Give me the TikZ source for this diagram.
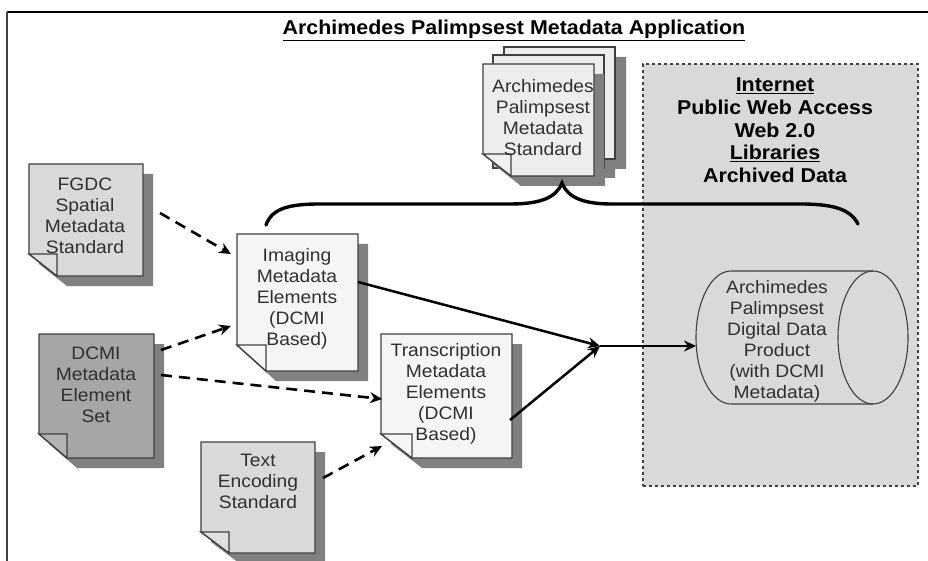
\documentclass[tikz,border=0pt]{standalone}
\usepackage{fontspec}
\setmainfont[FakeStretch=1.07]{Liberation Sans}
\usetikzlibrary{arrows.meta,calc}
\definecolor{lineC}{HTML}{404040}
\definecolor{shadowC}{HTML}{808080}
\definecolor{pageA}{HTML}{D9D9D9}
\definecolor{pageB}{HTML}{F5F5F5}
\definecolor{pageC}{HTML}{A6A6A6}
\definecolor{pageD}{HTML}{EDEDED}
\definecolor{textC}{HTML}{303030}
\tikzset{
 x=1pt,y=-1pt,
 pageline/.style={draw=lineC,line width=1.3pt,line join=miter},
 anchorbox/.style={inner sep=0pt,outer sep=0pt,draw=none},
 doctext/.style={align=center,text=textC,inner sep=0pt,anchor=north,font=\fontsize{18}{21}\selectfont},
 headtext/.style={align=center,text=black,inner sep=0pt,anchor=north,font=\fontsize{20}{22.6}\selectfont\bfseries},
 dasharrow/.style={line width=2.6pt,black,dash pattern=on 11pt off 7pt,-{Stealth[length=12pt,width=11pt]}},
 solidarrow/.style={line width=2.5pt,black,-{Stealth[length=12pt,width=11pt]}},
 bracecurve/.style={line width=3.4pt,black,line cap=round},
}
% #1 name, #2 x0, #3 y0, #4 x1, #5 y1, #6 fold y, #7 fold x, #8 fill
\newcommand{\docpage}[8]{%
 \fill[shadowC] (#2+10,#3+10) -- (#4+10,#3+10) -- (#4+10,#5+10) -- (#7+10,#5+10) -- (#2+10,#6+10) -- cycle;
 \path[pageline,fill=#8] (#2,#3) -- (#4,#3) -- (#4,#5) -- (#7,#5) -- (#2,#6) -- cycle;
 \path[pageline,fill=#8!85!white] (#2,#6) -- (#7,#6) -- (#7,#5) -- cycle;
 \node[anchorbox,minimum width=#4pt-#2pt,minimum height=#5pt-#3pt] (#1) at ({(#2+#4)/2},{(#3+#5)/2}) {};
}
\begin{document}
\begin{tikzpicture}
\useasboundingbox (0,0) rectangle (928,561);
\fill[white] (0,0) rectangle (928,561);
% frame
\draw[line width=1.2pt,black] (928,12) -- (7,12);
\draw[line width=1.6pt,lineC] (7,12) -- (7,561);
% internet box
\node[anchorbox,draw=lineC,fill=pageA,dashed,line width=1.1pt,minimum width=275pt,minimum height=422pt] (web) at (780.5,275) {};
% title
\node[inner sep=0pt,anchor=base,font=\fontsize{20}{22}\selectfont\bfseries,text=black] (title) at (514,35) {\underline{Archimedes Palimpsest Metadata Application}};
% internet text
\node[headtext] (webtext) at (775,78) {\underline{Internet}\\Public Web Access\\Web 2.0\\\underline{Libraries}\\Archived Data};
% stack of pages
\fill[shadowC] (514,57) -- (626,57) -- (626,169) -- (615,169) -- (615,178) -- (605,178) -- (605,186) -- (521,186) -- (511,176) -- (514,176) -- cycle;
\path[pageline,fill=pageD] (504,47) rectangle (615,159);
\path[pageline,fill=pageD] (493,55) rectangle (604,168);
\docpage{standard}{483}{64}{594}{176}{154}{511}{pageD}
\node[doctext] (standardtext) at (543,79) {Archimedes\\Palimpsest\\Metadata\\Standard};
% pages
\docpage{fgdc}{29}{164}{143}{276}{254}{57}{pageA}
\node[doctext] (fgdctext) at (85,177.5) {FGDC\\Spatial\\Metadata\\Standard};
\docpage{dcmi}{39}{334}{154}{458}{434}{67}{pageC}
\node[doctext] (dcmitext) at (96,347) {DCMI\\Metadata\\Element\\Set};
\docpage{imaging}{237}{234}{358}{371}{345}{266}{pageB}
\node[doctext] (imagingtext) at (297,248) {Imaging\\Metadata\\Elements\\(DCMI\\Based)};
\docpage{transcription}{381}{334}{512}{458}{434}{412}{pageB}
\node[doctext] (transcriptiontext) at (446,343) {Transcription\\Metadata\\Elements\\(DCMI\\Based)};
\docpage{textenc}{201}{442}{315}{553}{532}{229}{pageA}
\node[doctext] (textenctext) at (258,454) {Text\\Encoding\\Standard};
% cylinder
\path[draw=lineC,line width=1.1pt,fill=pageA] (873,271) -- (731,271) arc[start angle=90,end angle=270,x radius=35,y radius=-66.5] -- (873,404);
\draw[lineC,line width=1.1pt] (873,337.5) ellipse[x radius=35,y radius=66.5];
\node[anchorbox,minimum width=212pt,minimum height=133pt] (product) at (802,337.5) {};
\node[doctext] (producttext) at (777,280) {Archimedes\\Palimpsest\\Digital Data\\Product\\(with DCMI\\Metadata)};
% brace
\coordinate (braceL) at (266,225);
\coordinate (braceM) at (562,183);
\coordinate (braceR) at (858,224);
\draw[bracecurve] (braceL) .. controls (272,208) and (290,204) .. (320,204) -- (510,204) .. controls (540,204) and (556,198) .. (braceM) .. controls (568,198) and (584,204) .. (612,204) -- (800,204) .. controls (830,204) and (850,208) .. (braceR);
% connectors
\coordinate (hub) at (600,346);
\draw[dasharrow] ($(fgdc.east)+(17,-7)$) -- ($(imaging.west)+(-6,-48.5)$);
\draw[dasharrow] ($(dcmi.east)+(7,-46)$) -- ($(imaging.west)+(-6,23.5)$);
\draw[dasharrow] ($(dcmi.east)+(7,-21)$) -- ($(transcription.west)+(1,3)$);
\draw[dasharrow] ($(textenc.east)+(8,-19.5)$) -- ($(transcription.west)+(1,50)$);
\draw[solidarrow] ($(imaging.east)+(0,-20.5)$) -- (hub);
\draw[solidarrow] ($(transcription.east)+(-2,24)$) -- (hub);
\draw[solidarrow] (hub) -- ($(product.west)+(0,8.5)$);
\end{tikzpicture}
\end{document}
